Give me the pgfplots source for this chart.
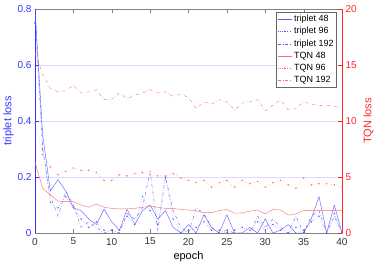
\documentclass[border=0pt]{standalone}
\usepackage{fontspec}
\setmainfont{Liberation Sans}
\usepackage{pgfplots}
\pgfplotsset{compat=1.18}
\definecolor{tripblue}{rgb}{0.35,0.35,1}
\definecolor{tqnred}{rgb}{1,0.42,0.42}
\definecolor{axb}{rgb}{0.2,0.2,1}
\definecolor{axr}{rgb}{1,0.15,0.15}
\pgfplotsset{
  every axis/.append style={
    /pgf/number format/assume math mode=true,
    tick label style={font=\fontsize{10}{12}\selectfont},
    label style={font=\fontsize{11}{13}\selectfont},
  },
  myleg/.style={legend image code/.code={\draw[mark repeat=2,mark phase=2,##1] plot coordinates {(0cm,0cm) (0.25cm,0cm) (0.5cm,0cm)};}},
}
\begin{document}
\begin{tikzpicture}
\path[use as bounding box] (-35pt,-32pt) rectangle (339pt,233pt);
\begin{axis}[at={(0,0)}, anchor=south west, scale only axis, width=307pt, height=224pt,
  xmin=0, xmax=40, ymin=0, ymax=0.8,
  xtick={0,5,...,40}, ytick={0,0.2,0.4,0.6,0.8},
  ytick pos=left, tick align=inside,
  separate axis lines,
  x axis line style={gray},
  y axis line style={axb},
  xtick style={gray}, ytick style={axb},
  yticklabel style={axb}, xticklabel style={black!80, yshift=-1.5pt},
  ymajorgrids, major grid style={blue!14},
  xlabel={epoch}, ylabel={triplet loss}, ylabel style={axb}, ylabel shift=-3pt,
  myleg,
  legend style={at={(0.983,0.988)}, anchor=north east, font=\fontsize{9}{10}\selectfont, draw=gray!80!black, inner sep=1pt, row sep=0.4pt},
  legend cell align=left,
]
\addplot[draw=tripblue, solid, thin] coordinates {(0,0.8) (1,0.35) (2,0.15) (3,0.19) (4,0.15) (5,0.09) (6,0.08) (7,0.05) (8,0.03) (9,0.085) (10,0.04) (11,0.01) (12,0.085) (13,0.03) (14,0.08) (15,0.10) (16,0.05) (17,0.08) (18,0.02) (19,0.0) (20,0.03) (21,0.0) (22,0.065) (23,0.02) (24,0.0) (25,0.065) (26,0.0) (27,0.0) (28,0.02) (29,0.0) (30,0.05) (31,0.0) (32,0.01) (33,0.03) (34,0.0) (35,0.0) (36,0.05) (37,0.13) (38,0.0) (39,0.1) (40,0.0)};
\addlegendentry{triplet 48}
\addplot[color=tripblue, dotted, thin, mark=*, mark size=0.5pt, mark options={solid}] coordinates {(0,0.75) (1,0.3) (2,0.11) (3,0.09) (4,0.13) (5,0.09) (6,0.05) (7,0.02) (8,0.04) (9,0.01) (10,0.01) (11,0.01) (12,0.06) (13,0.03) (14,0.13) (15,0.08) (16,0.03) (17,0.2) (18,0.05) (19,0.0) (20,0.01) (21,0.02) (22,0.04) (23,0.01) (24,0.01) (25,0.0) (26,0.01) (27,0.02) (28,0.01) (29,0.04) (30,0.01) (31,0.03) (32,0.01) (33,0.0) (34,0.02) (35,0.01) (36,0.04) (37,0.06) (38,0.0) (39,0.07) (40,0.0)};
\addlegendentry{triplet 96}
\addplot[draw=tripblue, dash dot, thin] coordinates {(0,0.8) (1,0.3) (2,0.13) (3,0.06) (4,0.15) (5,0.1) (6,0.02) (7,0.04) (8,0.02) (9,0.0) (10,0.01) (11,0.0) (12,0.07) (13,0.05) (14,0.09) (15,0.22) (16,0.01) (17,0.2) (18,0.08) (19,0.02) (20,0.0) (21,0.09) (22,0.07) (23,0.02) (24,0.0) (25,0.01) (26,0.0) (27,0.0) (28,0.0) (29,0.06) (30,0.02) (31,0.05) (32,0.02) (33,0.0) (34,0.06) (35,0.0) (36,0.06) (37,0.08) (38,0.0) (39,0.06) (40,0.0)};
\addlegendentry{triplet 192}
\addlegendimage{draw=tqnred, solid, thin}
\addlegendentry{TQN 48}
\addlegendimage{color=tqnred, dotted, thin, mark=*, mark size=0.5pt, mark options={solid}}
\addlegendentry{TQN 96}
\addlegendimage{draw=tqnred, dash dot, thin}
\addlegendentry{TQN 192}
\end{axis}
\begin{axis}[at={(0,0)}, anchor=south west, scale only axis, width=307pt, height=224pt,
  xmin=0, xmax=40, ymin=0, ymax=20,
  axis x line=none, axis y line*=right,
  ytick={0,5,10,15,20}, tick align=inside,
  y axis line style={axr, -}, ytick style={axr}, yticklabel style={axr},
  ylabel={TQN loss}, ylabel style={axr},
]
\addplot[draw=tqnred, solid, thin] coordinates {(0,6.3) (1,4.0) (2,3.4) (3,2.85) (4,2.8) (5,2.8) (6,2.5) (7,2.3) (8,2.6) (9,2.3) (10,2.2) (11,2.15) (12,2.15) (13,2.2) (14,2.3) (15,2.4) (16,2.3) (17,2.2) (18,2.2) (19,2.1) (20,2.05) (21,1.97) (22,1.82) (23,1.82) (24,2.0) (25,2.1) (26,1.76) (27,1.8) (28,1.95) (29,2.05) (30,1.7) (31,2.1) (32,2.05) (33,1.6) (34,1.7) (35,2.0) (36,2.0) (37,2.0) (38,2.0) (39,2.0) (40,2.0)};
\addplot[color=tqnred, dotted, thin, mark=*, mark size=0.5pt, mark options={solid}] coordinates {(0,9.8) (1,7.0) (2,5.9) (3,5.2) (4,5.5) (5,5.8) (6,5.6) (7,5.6) (8,5.4) (9,4.7) (10,4.7) (11,5.2) (12,5.1) (13,5.3) (14,5.4) (15,5.2) (16,5.1) (17,5.1) (18,5.3) (19,4.9) (20,4.7) (21,4.5) (22,4.7) (23,4.1) (24,4.5) (25,4.7) (26,4.1) (27,4.7) (28,4.4) (29,4.6) (30,4.1) (31,4.5) (32,4.7) (33,4.3) (34,4.0) (35,4.9) (36,4.3) (37,4.4) (38,4.4) (39,4.3) (40,4.1)};
\addplot[draw=tqnred, dash dot, thin] coordinates {(0,16.1) (1,14.2) (2,12.9) (3,12.6) (4,12.7) (5,13.2) (6,12.5) (7,12.6) (8,12.8) (9,11.9) (10,11.95) (11,12.5) (12,12.0) (13,12.3) (14,12.5) (15,12.8) (16,12.5) (17,12.6) (18,12.2) (19,12.4) (20,12.1) (21,11.1) (22,11.7) (23,11.5) (24,11.9) (25,11.7) (26,11.0) (27,11.6) (28,11.7) (29,11.9) (30,10.9) (31,11.4) (32,11.9) (33,11.0) (34,11.1) (35,11.7) (36,11.5) (37,11.4) (38,11.4) (39,11.3) (40,11.2)};
\end{axis}
\end{tikzpicture}
\end{document}
